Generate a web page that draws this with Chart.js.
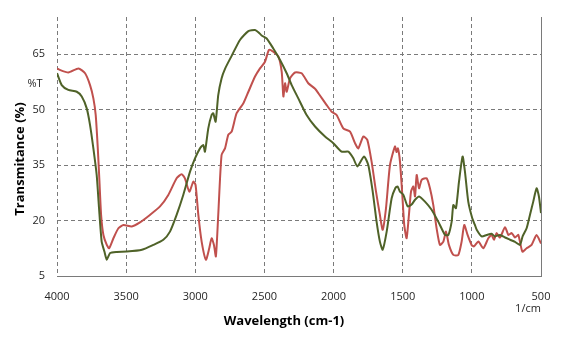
<!DOCTYPE html>
<html>
<head>
<meta charset="utf-8">
<script src="https://cdn.jsdelivr.net/npm/chart.js@4"></script>
<style>
  html, body { margin: 0; padding: 0; background: #fff; }
  #wrap { width: 570px; height: 341px; }
</style>
</head>
<body>
<div id="wrap"><canvas id="canvas" width="570" height="341"></canvas></div>
<script>
// wavenumber (cm-1) and %T for the two spectra
const oliveWave = [4000, 3966, 3918, 3857, 3821, 3785, 3761, 3737, 3713, 3696, 3677, 3657, 3640, 3616, 3568, 3495, 3386,
	3304, 3231, 3183, 3135, 3087, 3038, 3002, 2966, 2942, 2930, 2906, 2882, 2870, 2853, 2834, 2810, 2785, 2737, 2677,
	2616, 2568, 2544, 2520, 2484, 2436, 2387, 2339, 2303, 2255, 2195, 2134, 2062, 2002, 1942, 1893, 1857, 1828, 1780,
	1749, 1717, 1689, 1665, 1645, 1616, 1580, 1553, 1537, 1520, 1496, 1464, 1436, 1411, 1382, 1339, 1291, 1243, 1194,
	1170, 1146, 1134, 1115, 1093, 1067, 1050, 1026, 997, 978, 965, 929, 893, 857, 833, 797, 760, 724, 688, 652, 633,
	604, 580, 556, 532, 515, 500];
const oliveT = [59.8, 56.6, 55.3, 54.8, 53.5, 50.3, 45.8, 39.5, 32.3, 23.3, 14.3, 11.6, 9.4, 11.2, 11.5, 11.6, 12.1,
	13.4, 14.8, 17, 21.5, 26.9, 33.2, 36.8, 39.5, 40.4, 38.6, 44.9, 48.5, 49, 46.7, 53.9, 58.4, 61, 64.5, 68.8,
	71.2, 71.5, 70.9, 70, 69.2, 66.5, 63.4, 59.8, 56.6, 53, 48.5, 45.4, 42.7, 40.9, 38.6, 38.6, 36.8, 34.6, 37.3,
	35, 27.8, 19.7, 14.3, 12.1, 17, 26, 28.8, 29.2, 27.8, 27, 23.8, 24.3, 25.6, 26.5, 25.1, 22.9, 19.7, 16.1,
	16.1, 19.7, 24.2, 23.3, 30.5, 37.3, 33.2, 25.1, 20.6, 18.8, 17.5, 15.7, 16.1, 16.4, 15.7, 16.1, 15.4, 14.8, 14.2, 13.4, 15.7,
	17.9, 21.5, 25.1, 28.7, 26.5, 22];

const redWave = [4000, 3918, 3845, 3797, 3761, 3737, 3720, 3705, 3693, 3681, 3664, 3640, 3623, 3592, 3556, 3519, 3459,
	3400, 3328, 3255, 3195, 3135, 3099, 3075, 3043, 3014, 2998, 2978, 2954, 2923, 2899, 2882, 2865, 2851, 2834, 2810,
	2785, 2761, 2737, 2701, 2652, 2616, 2568, 2532, 2496, 2467, 2436, 2399, 2375, 2363, 2351, 2339, 2315, 2279, 2231,
	2183, 2134, 2110, 2050, 2014, 1978, 1930, 1881, 1845, 1821, 1785, 1756, 1725, 1693, 1665, 1645, 1621, 1592, 1556,
	1545, 1535, 1520, 1503, 1489, 1472, 1455, 1440, 1423, 1411, 1399, 1382, 1363, 1327, 1303, 1279, 1255, 1231, 1206,
	1187, 1166, 1134, 1098, 1074, 1055, 1031, 1002, 985, 953, 917, 881, 857, 840, 821, 797, 760, 736, 712, 688, 664,
	635, 604, 568, 532, 500];
const redT = [61, 60, 61.1, 59.8, 56.6, 53, 48.5, 39.5, 30.5, 21.5, 16, 13.4, 12.5, 15.2, 17.9, 18.8, 18.4,
	19.5, 21.5, 23.8, 26.9, 31.4, 32.5, 31.4, 27.8, 30.5, 29.6, 21.5, 14.3, 9.4, 12.5, 15.2, 13.4, 10.3, 21.5, 37.7,
	39.5, 43.2, 44, 49, 51.7, 54.8, 58.9, 61.1, 62.9, 66.1, 65.6, 64.3, 60.2, 53.5, 57.1, 54.8, 58.4, 60, 59.8,
	57.1, 55.6, 54.4, 51.2, 49.4, 48.5, 44.9, 44, 40.9, 39.5, 42.7, 41.8, 35.9, 27.8, 21.5, 17.5, 23.3, 35, 40,
	38.5, 39.5, 36, 27, 18.8, 15.2, 21.5, 27.8, 29.2, 26.5, 32.3, 28.7, 31, 31.4, 28.7, 24.2, 17.9, 13.4, 14.3,
	17, 13.4, 10.7, 10.7, 14.3, 18.8, 16.1, 13.4, 13, 14.3, 12.5, 15.2, 16.1, 14.8, 16.6, 15.4, 18.2, 16.1, 16.6, 15.4, 16.1,
	11.6, 12.5, 13.4, 16.1, 13.8];

const xTicks = [4000, 3500, 3000, 2500, 2000, 1500, 1000, 500];
const yTicks = [5, 20, 35, 50, 65];

const toPoints = (xs, ys) => xs.map((x, i) => ({ x: x, y: ys[i] }));

const gridGray = '#7a7a7a';
const labelFont = { family: 'Open Sans', size: 11 };

// axis captions drawn around the plot area
const captions = {
	id: 'captions',
	afterDraw(chart) {
		const c = chart.ctx;
		c.save();
		c.fillStyle = '#000';
		c.textAlign = 'center';
		c.textBaseline = 'middle';
		c.font = 'bold 13px "Open Sans"';
		c.fillText('Wavelength (cm-1)', 284, 321);
		c.save();
		c.translate(20, 159);
		c.rotate(-Math.PI / 2);
		c.fillText('Transmitance (%)', 0, 0);
		c.restore();
		c.font = '11px "Open Sans"';
		c.fillStyle = '#262626';
		c.fillText('%T', 35, 84);
		c.fillText('1/cm', 528, 309);
		c.restore();
	}
};

window.onload = function() {
	const ctx = document.getElementById('canvas').getContext('2d');
	window.spectra = new Chart(ctx, {
		type: 'line',
		data: {
			datasets: [{
				label: 'A',
				data: toPoints(oliveWave, oliveT),
				borderColor: '#4f6228',
				borderWidth: 2,
				pointRadius: 0,
				tension: 0.2
			}, {
				label: 'B',
				data: toPoints(redWave, redT),
				borderColor: '#c0504d',
				borderWidth: 2,
				pointRadius: 0,
				tension: 0.2
			}]
		},
		options: {
			responsive: false,
			animation: false,
			layout: { padding: { top: 17, right: 29, left: 0, bottom: 0 } },
			plugins: { legend: { display: false }, tooltip: { enabled: false } },
			scales: {
				x: {
					type: 'linear',
					reverse: true,
					min: 500,
					max: 4000,
					afterBuildTicks: s => { s.ticks = xTicks.map(v => ({ value: v })); },
					afterFit: s => { s.height = 65; s.paddingLeft = 0; s.paddingRight = 0; },
					ticks: {
						color: '#262626',
						font: labelFont,
						padding: 14,
						maxRotation: 0,
						callback: v => String(v)
					},
					grid: { color: gridGray, lineWidth: 1, drawTicks: false },
					border: {
						display: true,
						color: gridGray,
						width: 1,
						dash: c => (c.tick && c.tick.value !== 500) ? [4, 3] : []
					}
				},
				y: {
					min: 5,
					max: 75,
					afterBuildTicks: s => { s.ticks = yTicks.concat([75]).map(v => ({ value: v })); },
					afterFit: s => { s.width = 57; s.paddingTop = 0; s.paddingBottom = 0; },
					ticks: {
						color: '#262626',
						font: labelFont,
						padding: 12,
						callback: v => yTicks.includes(v) ? String(v) : ''
					},
					grid: {
						color: c => (c.tick && (c.tick.value === 5 || c.tick.value === 75)) ? 'rgba(0,0,0,0)' : gridGray,
						lineWidth: 1,
						drawTicks: false
					},
					border: { display: false, dash: [4, 3] }
				}
			}
		},
		plugins: [captions]
	});
};
</script>
</body>
</html>
